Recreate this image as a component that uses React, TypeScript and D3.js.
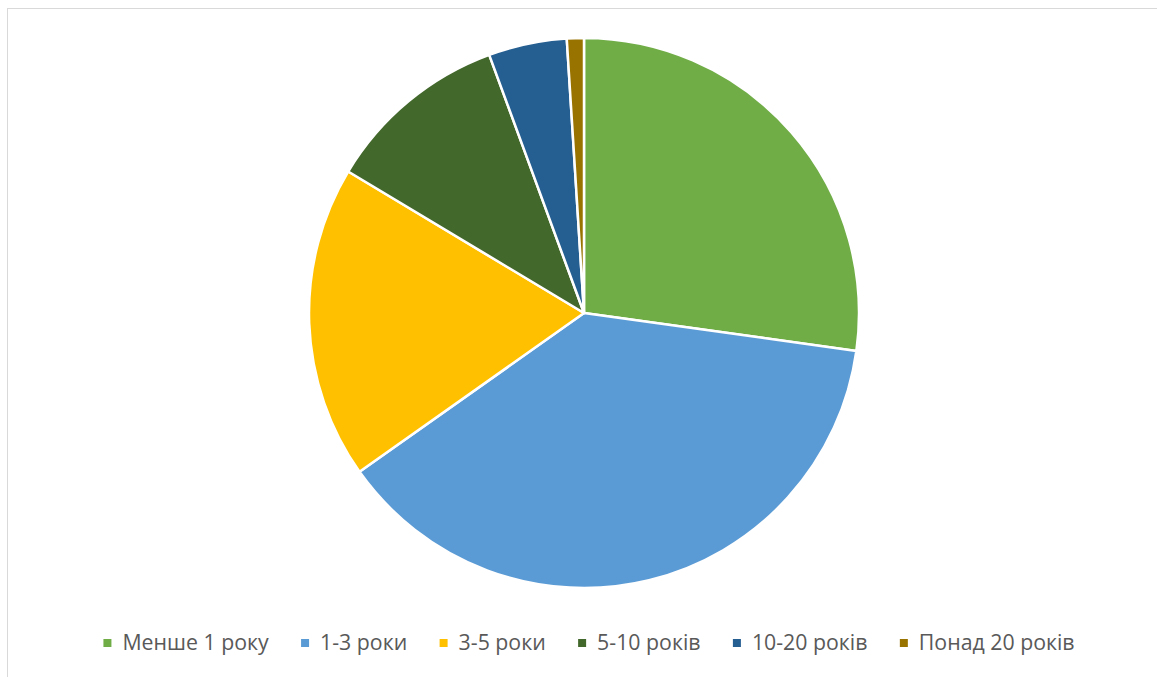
import React, { useEffect, useRef } from "react";
import * as d3 from "d3";

const categories = ["Менше 1 року", "1-3 роки", "3-5 роки", "5-10 років", "10-20 років", "Понад 20 років"];
const values = [27.2, 38.0, 18.4, 10.8, 4.6, 1.0];
const colors = ["#70AD47", "#5B9BD5", "#FFC000", "#43682B", "#255E91", "#997300"];

export default function App() {
  const ref = useRef<SVGSVGElement>(null);
  useEffect(() => {
    const svg = d3.select(ref.current);
    svg.selectAll("*").remove();
    const W = 1157, H = 677;
    svg.append("rect").attr("x", 0).attr("y", 0).attr("width", W).attr("height", H).attr("fill", "#fff");
    svg.append("rect").attr("x", 7.5).attr("y", 8.5).attr("width", W + 10).attr("height", H + 10)
      .attr("fill", "none").attr("stroke", "#D9D9D9").attr("stroke-width", 1);
    const cx = 584, cy = 313, r = 275;
    const pie = d3.pie<number>().sort(null).value(d => d);
    const arc = d3.arc<d3.PieArcDatum<number>>().innerRadius(0).outerRadius(r);
    const g = svg.append("g").attr("transform", `translate(${cx},${cy})`);
    g.selectAll("path").data(pie(values)).enter().append("path")
      .attr("d", arc as any)
      .attr("fill", (_, i) => colors[i])
      .attr("stroke", "#fff").attr("stroke-width", 2.5).attr("stroke-linejoin", "round");

    const lg = svg.append("g");
    const fontSize = 21.3;
    const items = categories.map((c, i) => {
      const ig = lg.append("g");
      ig.append("rect").attr("width", 8).attr("height", 8).attr("y", -4).attr("fill", colors[i]);
      const t = ig.append("text").attr("x", 19).attr("y", 0).attr("dy", "0.35em")
        .attr("font-family", "'Open Sans', 'Noto Sans', sans-serif").attr("font-size", fontSize)
        .attr("fill", "#595959").text(c);
      const w = (t.node() as SVGTextElement).getComputedTextLength();
      return { ig, w: 19 + w };
    });
    const gap = 32.4;
    const total = items.reduce((s, it) => s + it.w, 0) + gap * (items.length - 1);
    let x = 589 - total / 2;
    items.forEach(it => {
      it.ig.attr("transform", `translate(${x},643)`);
      x += it.w + gap;
    });
  }, []);
  return <svg ref={ref} width={1157} height={677} style={{ position: "absolute", left: 0, top: 0 }} />;
}
